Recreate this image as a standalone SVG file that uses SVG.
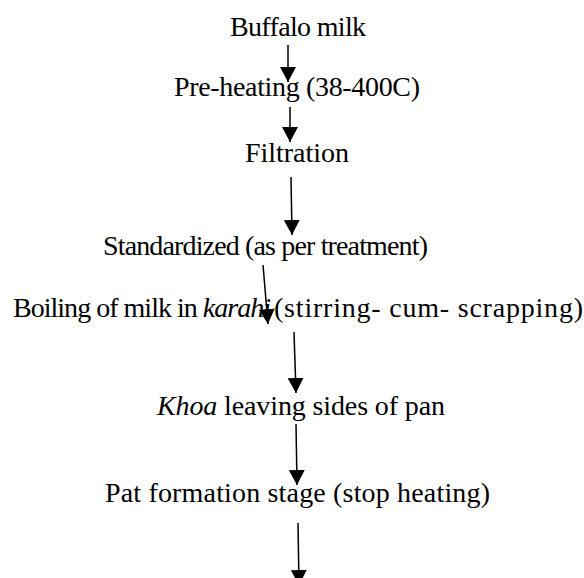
<svg xmlns="http://www.w3.org/2000/svg" width="584" height="578" viewBox="0 0 584 578">
<style>
.t{font-family:"Liberation Serif","DejaVu Serif",serif;font-size:28px;fill:#000;text-anchor:middle}
.s{text-anchor:start}
.i{font-style:italic}
.c{stroke:#000;stroke-width:1.5;fill:none;marker-end:url(#ah)}
</style>
<defs>
<marker id="ah" markerUnits="userSpaceOnUse" viewBox="0 0 15 16" refX="15" refY="8" markerWidth="15" markerHeight="16" orient="auto">
<path d="M0,0 L15,8 L0,16 Z" fill="#000"/>
</marker>
</defs>
<rect width="584" height="578" fill="#fff"/>
<g id="n1"><text class="t" x="298" y="36" textLength="136" lengthAdjust="spacing">Buffalo milk</text></g>
<g id="n2"><text class="t" x="297" y="96" textLength="246" lengthAdjust="spacing">Pre-heating (38-400C)</text></g>
<g id="n3"><text class="t" x="297" y="162" textLength="104" lengthAdjust="spacing">Filtration</text></g>
<g id="n4"><text class="t" x="265.5" y="255" textLength="325" lengthAdjust="spacing">Standardized (as per treatment)</text></g>
<g id="n5"><text class="t s" x="13" y="317" textLength="258" lengthAdjust="spacing">Boiling of milk in <tspan class="i">karahi</tspan></text><text class="t s" x="274" y="317" textLength="309" lengthAdjust="spacing">(stirring- cum- scrapping)</text></g>
<g id="n6"><text class="t" x="301" y="415" textLength="288" lengthAdjust="spacing"><tspan class="i">Khoa</tspan> leaving sides of pan</text></g>
<g id="n7"><text class="t" x="297.5" y="502" textLength="385" lengthAdjust="spacing">Pat formation stage (stop heating)</text></g>
<g id="connectors">
<line class="c" x1="263" y1="265" x2="268" y2="324"/>
<line class="c" x1="288" y1="45" x2="288" y2="82"/>
<line class="c" x1="290" y1="107" x2="290" y2="142"/>
<line class="c" x1="291" y1="177" x2="292" y2="235"/>
<line class="c" x1="294" y1="332" x2="296" y2="393"/>
<line class="c" x1="296" y1="424" x2="297" y2="485"/>
<line class="c" x1="298" y1="523" x2="299" y2="585"/>
</g>
</svg>
